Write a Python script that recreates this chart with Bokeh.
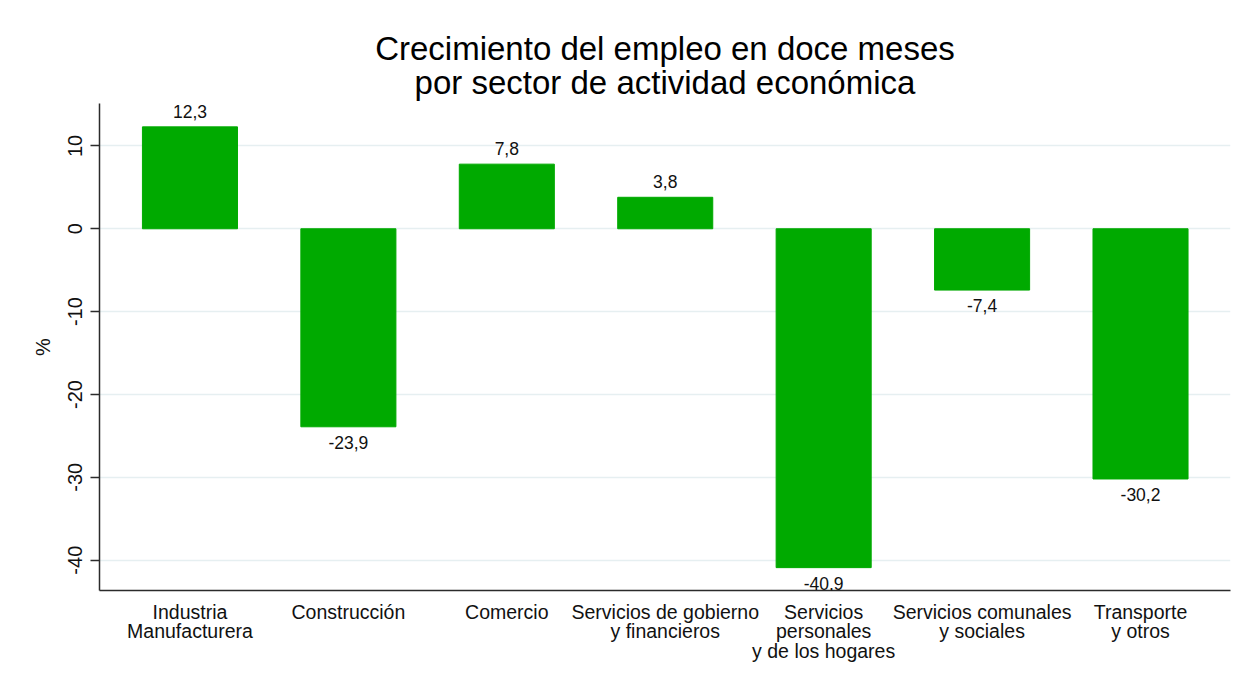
from bokeh.plotting import figure
from bokeh.models import ColumnDataSource, Range1d, FixedTicker, LabelSet, Title
from bokeh.core.properties import value
from bokeh.embed import file_html
from bokeh.resources import INLINE

sectors = [
    "Industria\nManufacturera",
    "Construcción",
    "Comercio",
    "Servicios de gobierno\ny financieros",
    "Servicios\npersonales\ny de los hogares",
    "Servicios comunales\ny sociales",
    "Transporte\ny otros",
]
growth = [12.3, -23.9, 7.8, 3.8, -40.9, -7.4, -30.2]
y_ticks = [-40, -30, -20, -10, 0, 10]
y_tick_labels = ["-40", "-30", "-20", "-10", "0", "10"]
title_lines = ["Crecimiento del empleo en doce meses",
               "por sector de actividad económica"]

pos = list(range(len(sectors)))
labels = [f"{v:.1f}".replace(".", ",") for v in growth]

src_pos = ColumnDataSource(dict(
    x=[p for p, v in zip(pos, growth) if v >= 0],
    y=[v for v in growth if v >= 0],
    t=[l for l, v in zip(labels, growth) if v >= 0],
))
src_neg = ColumnDataSource(dict(
    x=[p for p, v in zip(pos, growth) if v < 0],
    y=[v for v in growth if v < 0],
    t=[l for l, v in zip(labels, growth) if v < 0],
))
src = ColumnDataSource(dict(x=pos, top=growth))

FONT = "Liberation Sans"

p = figure(
    width=1234, height=665,
    x_range=Range1d(-0.571, 6.568),
    y_range=Range1d(-43.66, 15.12),
    output_backend="svg", toolbar_location=None,
)
p.min_border_left = 99
p.min_border_right = 4
p.min_border_top = 103
p.min_border_bottom = 75
p.outline_line_color = None
p.background_fill_color = "white"
p.border_fill_color = "white"

for i, line in enumerate(reversed(title_lines)):
    p.add_layout(Title(text=line, align="center", text_font=FONT,
                       text_font_size="33px", text_font_style="normal",
                       text_color="#000000", text_line_height=0.9,
                       standoff=5 if i == 0 else -14, offset=0), "above")

p.vbar(x="x", top="top", bottom=0, width=0.6, source=src,
       fill_color="#00aa00", line_color="#00aa00")

p.add_layout(LabelSet(x="x", y="y", text="t", source=src_pos,
                      text_align="center", text_baseline="bottom", y_offset=9,
                      text_font=value(FONT), text_font_size=value("17.5px"),
                      text_color="#111111"))
p.add_layout(LabelSet(x="x", y="y", text="t", source=src_neg,
                      text_align="center", text_baseline="top", y_offset=-9,
                      text_font=value(FONT), text_font_size=value("17.5px"),
                      text_color="#111111"))

# x axis
p.xaxis.ticker = FixedTicker(ticks=pos)
p.xaxis.major_label_overrides = {i: s for i, s in zip(pos, sectors)}
p.xaxis.major_tick_out = 0
p.xaxis.major_tick_in = 0
p.xaxis.minor_tick_out = 0
p.xaxis.minor_tick_in = 0
p.xaxis.major_label_standoff = 10
p.xaxis.major_label_text_font = FONT
p.xaxis.major_label_text_font_size = "19.5px"
p.xaxis.major_label_text_color = "#111111"
p.xaxis.major_label_text_line_height = 0.9
p.xaxis.axis_line_color = "#2b2b2b"
p.xaxis.axis_line_width = 1.5

# y axis
p.yaxis.ticker = FixedTicker(ticks=y_ticks)
p.yaxis.major_label_overrides = {t: s for t, s in zip(y_ticks, y_tick_labels)}
p.yaxis.major_label_orientation = "vertical"
p.yaxis.major_tick_out = 9
p.yaxis.major_tick_in = 0
p.yaxis.minor_tick_out = 0
p.yaxis.minor_tick_in = 0
p.yaxis.major_label_standoff = 8
p.yaxis.major_label_text_font = FONT
p.yaxis.major_label_text_font_size = "20px"
p.yaxis.major_label_text_color = "#111111"
p.yaxis.axis_label = "%"
p.yaxis.axis_label_text_font = FONT
p.yaxis.axis_label_text_font_size = "20px"
p.yaxis.axis_label_text_font_style = "normal"
p.yaxis.axis_label_text_color = "#111111"
p.yaxis.axis_label_standoff = 12
p.yaxis.axis_line_color = "#2b2b2b"
p.yaxis.axis_line_width = 1.5
p.yaxis.major_tick_line_color = "#2b2b2b"
p.yaxis.major_tick_line_width = 1.5

p.xgrid.grid_line_color = None
p.ygrid.grid_line_color = "#e6eff1"
p.ygrid.grid_line_width = 1.5

open("out.html", "w").write(file_html(p, INLINE))
